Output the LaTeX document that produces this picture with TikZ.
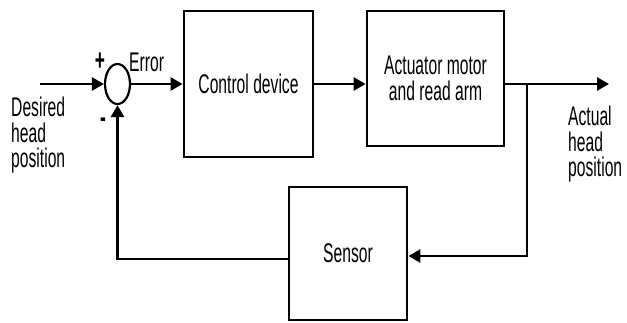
\documentclass[tikz,border=0pt]{standalone}
\usepackage{fontspec}
\newfontfamily\cond[FakeStretch=0.58]{Liberation Sans}
\usetikzlibrary{shapes.geometric,arrows.meta}
\begin{document}
\begin{tikzpicture}[x=1pt,y=-1pt,
  every node/.style={font=\cond\fontsize{27}{25.5}\selectfont},
  blockbox/.style={draw,line width=2.8pt,inner sep=0pt,align=center},
  conn/.style={line width=2.7pt},
  arr/.style={conn,-{Triangle[length=12pt,width=13pt]}},
  lbl/.style={inner sep=0pt,align=left,anchor=north west},
  sign/.style={inner sep=0pt,font=\cond\bfseries\fontsize{30}{30}\selectfont}
]
\useasboundingbox (0,0) rectangle (627,322);
\node[blockbox,minimum width=129pt,minimum height=146pt] (ctrl) at (248.5,84) {Control device};
\node[blockbox,minimum width=137pt,minimum height=135pt] (act) at (435.5,78.5) {Actuator motor\\and read arm};
\node[blockbox,minimum width=118pt,minimum height=133pt] (sens) at (348,253.5) {Sensor};
\node[draw,ellipse,line width=2.2pt,inner sep=0pt,minimum width=25pt,minimum height=40pt] (sum) at (117.5,84) {};
\coordinate (in) at (40,84);
\coordinate (out) at (609,84);
\coordinate (br) at (527,84);
\node[lbl] (desired) at (11,97) {Desired\\head\\position};
\node[lbl] (actual) at (568,106) {Actual\\head\\position};
\node[sign] (plus) at (100,62) {+};
\node[sign] (minus) at (103,123) {-};
\node[inner sep=0pt,anchor=base west] (err) at (129,71) {Error};
\draw[arr] (in) -- (sum.west);
\draw[arr] (sum.east) -- (ctrl.west);
\draw[arr] (ctrl.east) -- (ctrl.east -| act.west);
\draw[arr] (act.east |- br) -- (out);
\draw[arr] (br) |- ([yshift=-2.5pt]sens.east);
\draw[arr] ([yshift=-5.5pt]sens.west) -| (sum.south);
\end{tikzpicture}
\end{document}
